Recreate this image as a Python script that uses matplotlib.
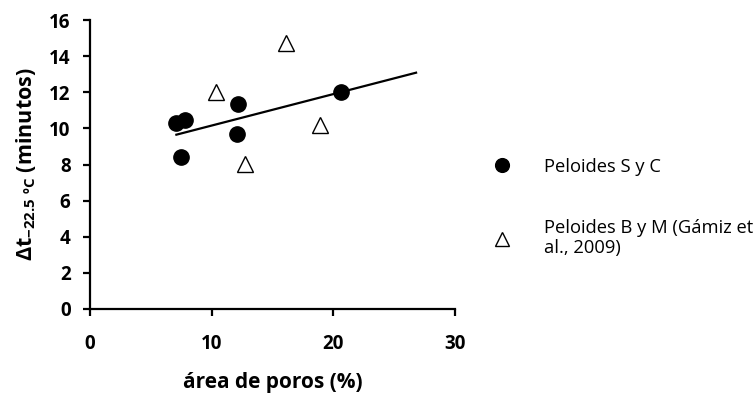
import matplotlib
matplotlib.use("Agg")
import matplotlib.pyplot as plt
import numpy as np

plt.rcParams['font.family'] = ['Open Sans', 'DejaVu Sans']
plt.rcParams['mathtext.fontset'] = 'custom'
plt.rcParams['mathtext.rm'] = 'Open Sans:bold'
plt.rcParams['mathtext.bf'] = 'Open Sans:bold'

# Peloides S y C
sc_area = [7.1, 7.8, 7.45, 12.2, 12.1, 20.6]
sc_dt = [10.3, 10.45, 8.4, 11.35, 9.7, 12.0]

# Peloides B y M (Gamiz et al., 2009)
bm_area = [10.35, 16.1, 12.75, 18.9]
bm_dt = [12.0, 14.75, 8.05, 10.2]

trend_end = 26.8

# linear trend for S y C
slope, icpt = np.polyfit(sc_area, sc_dt, 1)
tx = np.array([min(sc_area), trend_end])

fig = plt.figure(figsize=(7.55, 3.97), dpi=100)
ax = fig.add_axes([90/755, 1 - 309/397, 365/755, 289/397])

ax.plot(tx, slope * tx + icpt, color='black', lw=1.6, zorder=2)
ax.plot(sc_area, sc_dt, 'o', ms=11, color='black', ls='none',
        label='Peloides S y C', zorder=3)
ax.plot(bm_area, bm_dt, '^', ms=11, mfc='white', mec='black', mew=1.0,
        ls='none', label='Peloides B y M (Gámiz et\nal., 2009)', zorder=3)

ax.set_xlim(0, 30)
ax.set_ylim(0, 16)
ax.set_xticks([0, 10, 20, 30])
ax.set_yticks(range(0, 17, 2))
for s in ['top', 'right']:
    ax.spines[s].set_visible(False)
for s in ['left', 'bottom']:
    ax.spines[s].set_linewidth(1.6)
ax.tick_params(direction='out', length=5, width=1.6, labelsize=13.5, pad=9)
for lab in ax.get_xticklabels() + ax.get_yticklabels():
    lab.set_fontweight('bold')
ax.tick_params(axis='x', pad=13)

ax.set_xlabel('área de poros (%)', fontsize=15, fontweight='bold', labelpad=13)
ax.set_ylabel(r'$\Delta$t$_{\mathregular{-22.5\ ºC}}$ (minutos)', fontsize=15.5,
              fontweight='bold', labelpad=8)

leg = fig.legend(loc='upper left', bbox_to_anchor=(476/755, 1 - 141/397),
                 frameon=False, fontsize=13.2, labelspacing=2.35,
                 handletextpad=1.8, handlelength=1.0, markerscale=0.9)

fig.savefig('out.png', dpi=100)
